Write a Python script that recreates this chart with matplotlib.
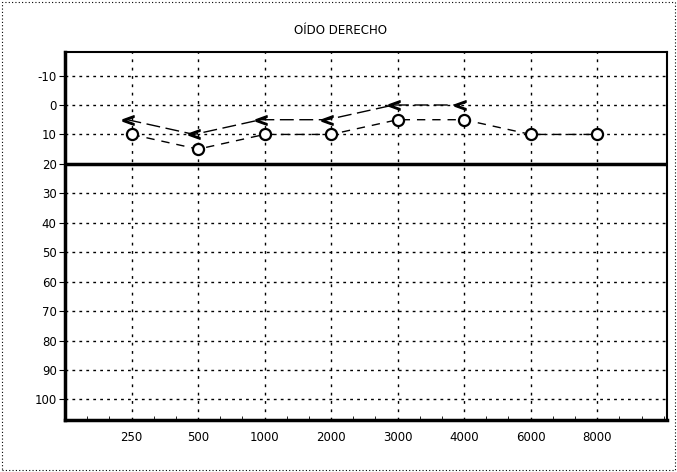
import numpy as np
import matplotlib.pyplot as plt
from matplotlib.ticker import MultipleLocator

plt.rcParams['axes.unicode_minus'] = False

# audiogram, right ear
freqs = ['250', '500', '1000', '2000', '3000', '4000', '6000', '8000']
air = [10, 15, 10, 10, 5, 5, 10, 10]
bone = [5, 10, 5, 5, 0, 0]
yticks = [-10, 0, 10, 20, 30, 40, 50, 60, 70, 80, 90, 100]

x = np.arange(1, len(freqs)+1)
xb = np.arange(1, len(bone)+1)

fig = plt.figure(figsize=(6.77, 4.72), dpi=100)
ax = fig.add_axes([65/677., 52/472., 602/677., 368/472.])

for xi in x:
    ax.axvline(xi, color='black', lw=1.0, ls=(0, (2, 4)), zorder=1)
for yi in yticks:
    ax.axhline(yi, color='black', lw=1.0, ls=(0, (2, 3)), zorder=1)
ax.axhline(20, color='black', lw=2.5, zorder=2)

ax.plot(x, air, color='black', lw=1.0, ls=(0, (6, 5)), zorder=3)
ax.plot(x, air, 'o', ms=8, mfc='white', mec='black', mew=1.6, zorder=4)
ax.plot(xb-0.06, bone, color='black', lw=1.0, ls=(0, (10, 4)), zorder=3)
ax.plot(xb-0.06, bone, marker='$<$', ls='none', ms=8, color='black', zorder=4)

ax.set_xlim(0, 9.05)
ax.set_ylim(107, -18)
ax.set_xticks(x)
ax.set_xticklabels(freqs)
ax.set_yticks(yticks)
ax.xaxis.set_minor_locator(MultipleLocator(1/3.))
ax.tick_params(axis='x', which='major', length=0, pad=8, labelsize=8.5)
ax.tick_params(axis='x', which='minor', direction='in', length=3)
ax.tick_params(axis='y', length=4, labelsize=8.5, pad=2)

ax.spines['left'].set_linewidth(2.5)
ax.spines['bottom'].set_linewidth(2.5)
ax.spines['top'].set_linewidth(1.5)
ax.spines['right'].set_linewidth(1.5)

fig.text(340/677., 1-30/472., 'OÍDO DERECHO', ha='center', va='center', fontsize=8.5)

# thin frame round the whole picture
fig.patches.append(plt.Rectangle((0.003, 0.005), 0.994, 0.99, transform=fig.transFigure,
                                 fill=False, lw=0.8, ls=(0, (1, 2)), color='black'))

plt.savefig('out.png', dpi=100)
